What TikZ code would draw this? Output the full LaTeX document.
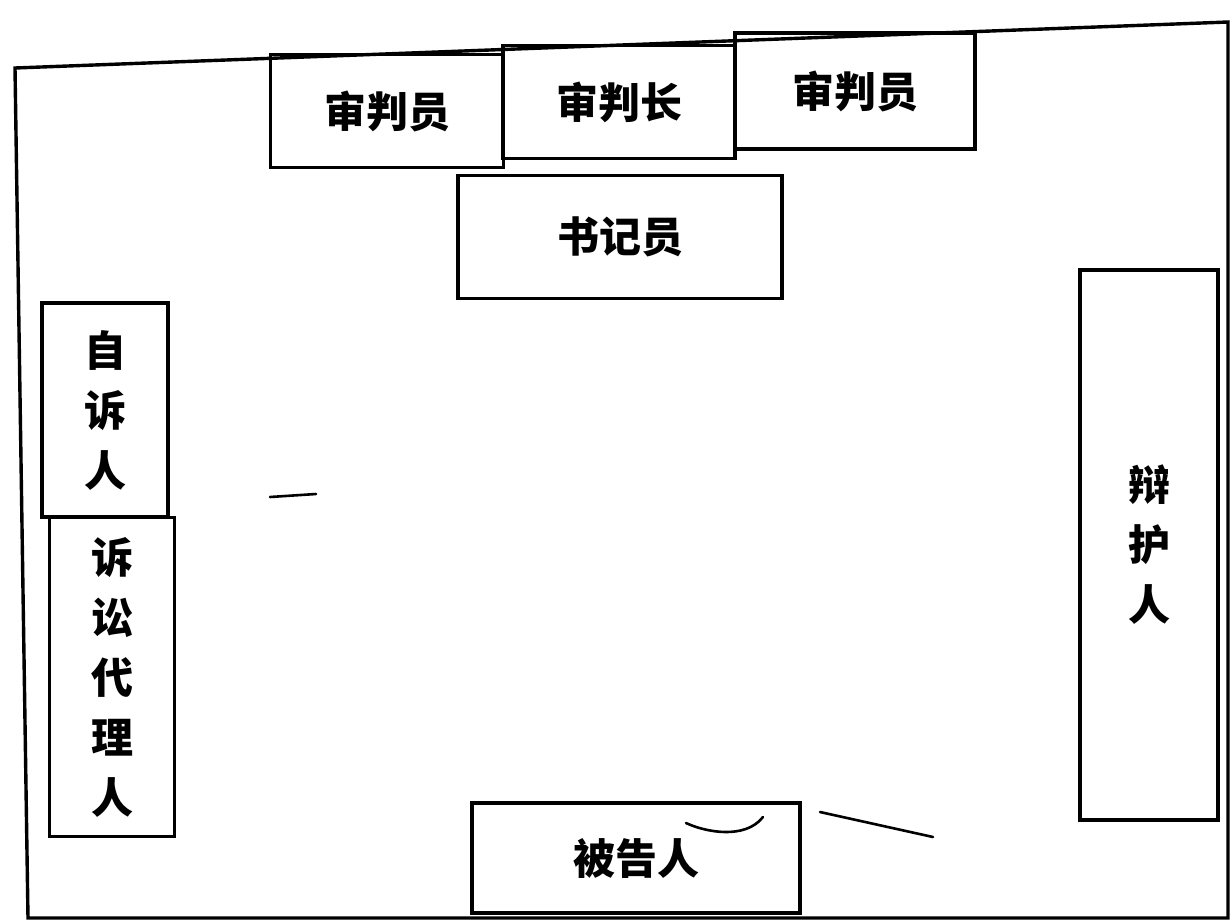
\documentclass[tikz,border=0pt]{standalone}
\usepackage{fontspec}
\newfontfamily\cjk{Noto Sans CJK SC}
\begin{document}
\begin{tikzpicture}[x=1pt,y=-1pt,
  seat/.style={draw, line width=3.6pt, inner sep=0pt, font=\cjk\bfseries\fontsize{42}{50}\selectfont},
  vseat/.style={seat, align=center, font=\cjk\bfseries\fontsize{42}{60}\selectfont},
  frame/.style={line width=3.4pt},
  stray/.style={line width=2.6pt, line cap=round}]
\useasboundingbox (0,0) rectangle (1231,922);
% outer frame
\coordinate (tl) at (15,68);
\coordinate (tr) at (1228,22);
\coordinate (br) at (1228,918);
\coordinate (bl) at (28,918);
\draw[frame] (tl) -- (tr) -- (br) -- (bl) -- cycle;
% judges
\node[seat, minimum width=233pt, minimum height=113pt] (j1) at (387,111) {审判员};
\node[seat, minimum width=232pt, minimum height=113pt] (j2) at (619,102) {审判长};
\node[seat, minimum width=240pt, minimum height=116pt] (j3) at (855,91) {审判员};
% clerk
\node[seat, minimum width=324pt, minimum height=123pt] (clerk) at (620,237) {书记员};
% left side
\node[vseat, minimum width=126pt, minimum height=214pt] (zs) at (105,410) {自\\诉\\人};
\node[vseat, minimum width=125pt, minimum height=319pt] (dl) at (112,677) {诉\\讼\\代\\理\\人};
% right side
\node[vseat, minimum width=138pt, minimum height=550pt] (bh) at (1149,545) {辩\\护\\人};
% defendant
\node[seat, minimum width=328pt, minimum height=110pt] (bg) at (636,858) {被告人};
% stray marks
\coordinate (m1) at (270,497);
\coordinate (m2) at (316,494);
\draw[stray] (m1) -- (m2);
\coordinate (c1) at (686,823);
\coordinate (c3) at (763,817);
\draw[stray] (c1) .. controls (705,832) and (745,840) .. (c3);
\coordinate (l1) at (820,812);
\coordinate (l2) at (933,837);
\draw[stray] (l1) -- (l2);
\end{tikzpicture}
\end{document}
